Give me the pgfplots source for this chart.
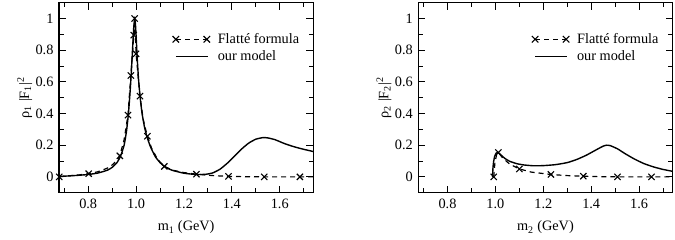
\documentclass[border=0pt]{standalone}
\usepackage{fontspec}
\setmainfont{Liberation Serif}
\usepackage{pgfplots}
\pgfplotsset{compat=1.18}
\pgfplotsset{
  common/.style={
    scale only axis, width=254.3pt, height=190pt,
    xmin=0.678, xmax=1.74, ymin=-0.1, ymax=1.1,
    xtick={0.8,1.0,1.2,1.4,1.6}, xticklabels={0.8,1.0,1.2,1.4,1.6},
    minor xtick={0.7,0.9,1.1,1.3,1.5,1.7},
    ytick={0,0.2,0.4,0.6,0.8,1}, yticklabels={0,0.2,0.4,0.6,0.8,1},
    minor ytick={0.1,0.3,0.5,0.7,0.9},
    tick align=inside, major tick length=7pt, minor tick length=4.5pt,
    axis line style={line width=1.3pt},
    every tick/.style={line width=1pt, black},
    tick label style={font=\fontsize{14.3}{16}\selectfont},
    label style={font=\fontsize{14.3}{16}\selectfont},
    yticklabel style={xshift=-2pt},
    xticklabel style={yshift=-3pt},
    xlabel style={at={(axis description cs:0.5,0)}, anchor=base, yshift=-38.3pt},
    ylabel style={at={(axis description cs:-0.135,0.5)}, anchor=center, rotate=0},
    legend style={draw=none, fill=none, at={(0.965,0.86)}, anchor=north east,
      font=\fontsize{14.3}{16}\selectfont, row sep=2pt},
    legend cell align=left,
  },
  flatte/.style={dash pattern=on 5pt off 4pt, line width=1.2pt},
  fmarks/.style={only marks, mark=x, mark size=4.4pt, mark options={line width=1.1pt, solid}},
  model/.style={line width=1.4pt},
}
\newcommand{\flatteimg}{\addlegendimage{legend image code/.code={
  \path[draw=none] (0pt,-1pt) rectangle (40pt,1pt);
  \draw[dash pattern=on 5pt off 4pt, line width=1.2pt] (0pt,0pt) -- (31pt,0pt);
  \draw[line width=1.1pt, solid] plot[only marks, mark=x, mark size=4.6pt] coordinates {(0pt,0pt) (31pt,0pt)};}}}
\newcommand{\modelimg}{\addlegendimage{legend image code/.code={
  \path[draw=none] (0pt,-1pt) rectangle (40pt,1pt);
  \draw[line width=1.4pt, solid] (0pt,0pt) -- (32pt,0pt);}}}
\begin{document}
\begin{tikzpicture}
\path[use as bounding box] (-59pt,-47.3pt) rectangle (616pt,192.7pt);
\begin{axis}[common, at={(0pt,0pt)}, anchor=south west,
  xlabel={m\textsubscript{1} (GeV)},
  ylabel={ρ\textsubscript{1} |F\textsubscript{1}|\textsuperscript{2}}]
\flatteimg
\addlegendentry{Flatté formula}
\modelimg
\addlegendentry{our model}
\addplot[flatte, forget plot] coordinates {
(0.679,0.0) (0.72,0.007) (0.76,0.012) (0.802,0.02) (0.84,0.032) (0.88,0.055)
(0.90,0.075) (0.92,0.105) (0.932,0.133) (0.95,0.235) (0.966,0.39) (0.978,0.64)
(0.990,0.895) (0.994,1.0) (1.000,0.777) (1.016,0.51) (1.03,0.36) (1.047,0.257)
(1.065,0.18) (1.09,0.11) (1.118,0.066) (1.15,0.043) (1.2,0.027) (1.252,0.017)
(1.32,0.008) (1.386,0.003) (1.46,0.001) (1.535,0.0) (1.684,0.0) (1.74,0.0)};
\addplot[fmarks, forget plot] coordinates {
(0.679,0.0) (0.802,0.02) (0.932,0.133) (0.966,0.39) (0.978,0.64) (0.990,0.895)
(0.994,1.0) (1.000,0.777) (1.016,0.51) (1.047,0.257) (1.118,0.066) (1.252,0.017)
(1.386,0.003) (1.535,0.0) (1.684,0.0)};
\addplot[model, forget plot, smooth, tension=0.3] coordinates {
(0.678,0.003) (0.72,0.006) (0.76,0.010) (0.80,0.015) (0.84,0.024) (0.88,0.042)
(0.90,0.06) (0.92,0.09) (0.935,0.13) (0.95,0.2) (0.96,0.29) (0.968,0.4)
(0.975,0.54) (0.98,0.66) (0.985,0.8) (0.99,0.94) (0.994,0.995) (0.997,0.97)
(1.000,0.89) (1.005,0.74) (1.01,0.62) (1.017,0.5) (1.025,0.4) (1.035,0.315)
(1.045,0.255) (1.06,0.19) (1.08,0.128) (1.10,0.09) (1.12,0.064) (1.15,0.042)
(1.20,0.023) (1.25,0.015) (1.29,0.016) (1.32,0.025) (1.35,0.048) (1.38,0.085)
(1.41,0.13) (1.44,0.175) (1.47,0.213) (1.50,0.238) (1.53,0.248) (1.55,0.246)
(1.58,0.235) (1.62,0.21) (1.66,0.19) (1.70,0.174) (1.74,0.16)};
\end{axis}
\begin{axis}[common, at={(359.3pt,0pt)}, anchor=south west,
  xlabel={m\textsubscript{2} (GeV)},
  ylabel={ρ\textsubscript{2} |F\textsubscript{2}|\textsuperscript{2}}]
\flatteimg
\addlegendentry{Flatté formula}
\modelimg
\addlegendentry{our model}
\addplot[flatte, forget plot] coordinates {
(0.993,0.0) (0.998,0.09) (1.005,0.14) (1.0125,0.154) (1.03,0.12) (1.06,0.08)
(1.10,0.05) (1.15,0.03) (1.232,0.015) (1.30,0.008) (1.367,0.004) (1.44,0.001)
(1.51,0.0) (1.652,0.0) (1.74,0.0)};
\addplot[fmarks, forget plot] coordinates {
(0.993,0.0) (1.0125,0.154) (1.10,0.05) (1.232,0.015) (1.367,0.004) (1.51,0.0) (1.652,0.0)};
\addplot[model, forget plot, smooth, tension=0.3] coordinates {
(0.988,0.0) (0.99,0.06) (0.993,0.10) (0.997,0.13) (1.003,0.15) (1.01,0.155)
(1.02,0.142) (1.04,0.116) (1.06,0.098) (1.09,0.083) (1.12,0.075) (1.16,0.07)
(1.20,0.071) (1.25,0.077) (1.30,0.09) (1.34,0.11) (1.38,0.137) (1.42,0.17)
(1.45,0.194) (1.465,0.2) (1.48,0.197) (1.51,0.177) (1.54,0.148) (1.58,0.113)
(1.62,0.084) (1.66,0.063) (1.70,0.047) (1.74,0.035)};
\end{axis}
\end{tikzpicture}
\end{document}
